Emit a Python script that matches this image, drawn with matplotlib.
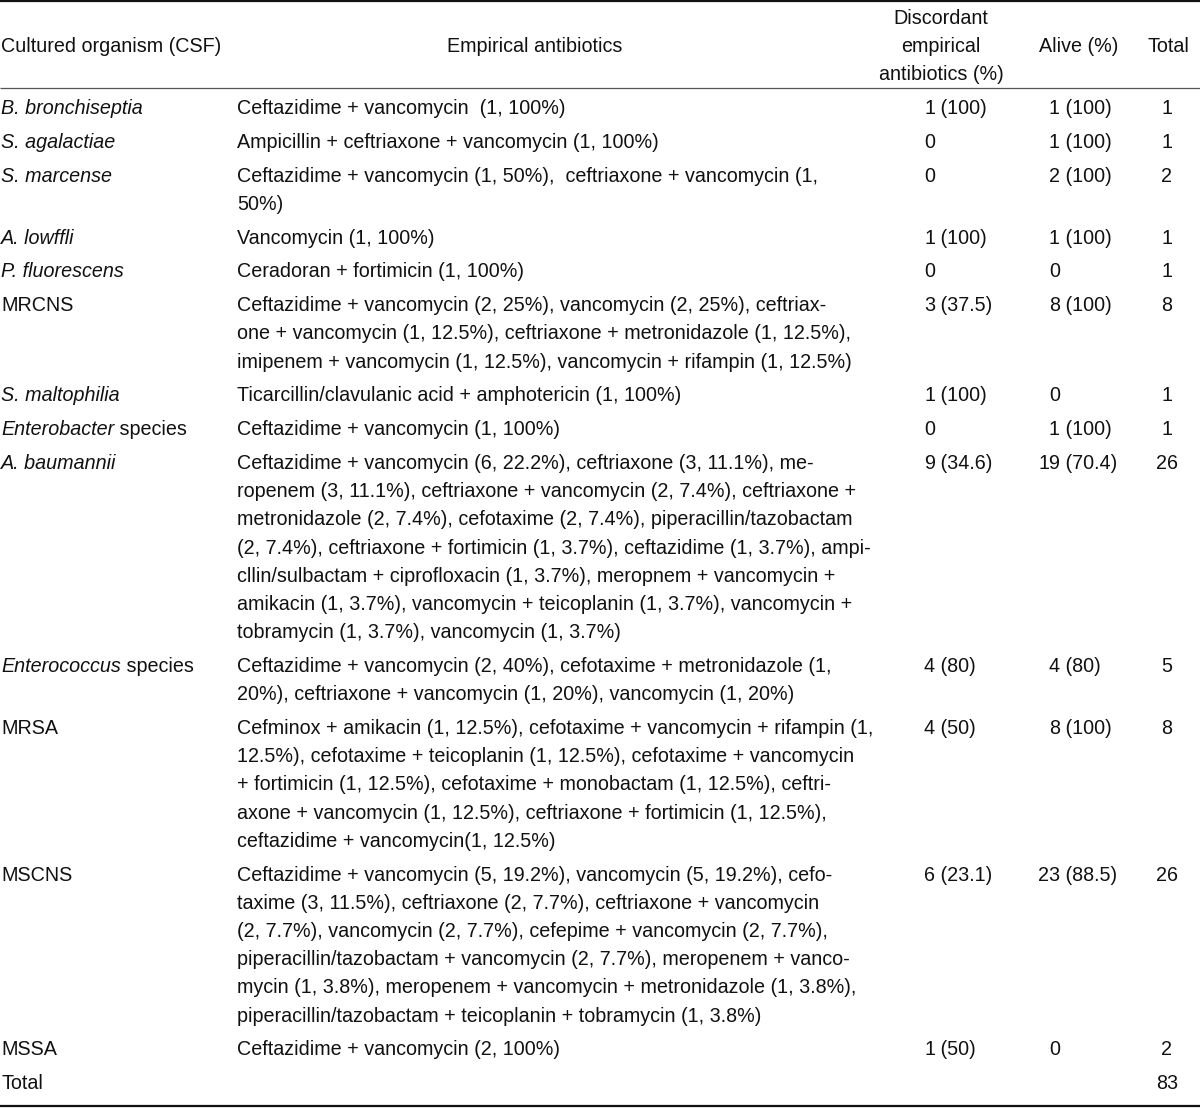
import matplotlib
matplotlib.use('Agg')
import matplotlib.pyplot as plt

plt.rcParams['font.family'] = ['Liberation Sans', 'DejaVu Sans']

# table data
organisms = ['B. bronchiseptia', 'S. agalactiae', 'S. marcense', 'A. lowffli', 'P. fluorescens',
             'MRCNS', 'S. maltophilia', 'Enterobacter species', 'A. baumannii',
             'Enterococcus species', 'MRSA', 'MSCNS', 'MSSA']
# part of each name that is set in italics
italic_part = ['B. bronchiseptia', 'S. agalactiae', 'S. marcense', 'A. lowffli', 'P. fluorescens',
               '', 'S. maltophilia', 'Enterobacter', 'A. baumannii',
               'Enterococcus', '', '', '']

antibiotics = [
    ['Ceftazidime + vancomycin  (1, 100%)'],
    ['Ampicillin + ceftriaxone + vancomycin (1, 100%)'],
    ['Ceftazidime + vancomycin (1, 50%),  ceftriaxone + vancomycin (1,',
     '50%)'],
    ['Vancomycin (1, 100%)'],
    ['Ceradoran + fortimicin (1, 100%)'],
    ['Ceftazidime + vancomycin (2, 25%), vancomycin (2, 25%), ceftriax-',
     'one + vancomycin (1, 12.5%), ceftriaxone + metronidazole (1, 12.5%),',
     'imipenem + vancomycin (1, 12.5%), vancomycin + rifampin (1, 12.5%)'],
    ['Ticarcillin/clavulanic acid + amphotericin (1, 100%)'],
    ['Ceftazidime + vancomycin (1, 100%)'],
    ['Ceftazidime + vancomycin (6, 22.2%), ceftriaxone (3, 11.1%), me-',
     'ropenem (3, 11.1%), ceftriaxone + vancomycin (2, 7.4%), ceftriaxone +',
     'metronidazole (2, 7.4%), cefotaxime (2, 7.4%), piperacillin/tazobactam',
     '(2, 7.4%), ceftriaxone + fortimicin (1, 3.7%), ceftazidime (1, 3.7%), ampi-',
     'cllin/sulbactam + ciprofloxacin (1, 3.7%), meropnem + vancomycin +',
     'amikacin (1, 3.7%), vancomycin + teicoplanin (1, 3.7%), vancomycin +',
     'tobramycin (1, 3.7%), vancomycin (1, 3.7%)'],
    ['Ceftazidime + vancomycin (2, 40%), cefotaxime + metronidazole (1,',
     '20%), ceftriaxone + vancomycin (1, 20%), vancomycin (1, 20%)'],
    ['Cefminox + amikacin (1, 12.5%), cefotaxime + vancomycin + rifampin (1,',
     '12.5%), cefotaxime + teicoplanin (1, 12.5%), cefotaxime + vancomycin',
     '+ fortimicin (1, 12.5%), cefotaxime + monobactam (1, 12.5%), ceftri-',
     'axone + vancomycin (1, 12.5%), ceftriaxone + fortimicin (1, 12.5%),',
     'ceftazidime + vancomycin(1, 12.5%)'],
    ['Ceftazidime + vancomycin (5, 19.2%), vancomycin (5, 19.2%), cefo-',
     'taxime (3, 11.5%), ceftriaxone (2, 7.7%), ceftriaxone + vancomycin',
     '(2, 7.7%), vancomycin (2, 7.7%), cefepime + vancomycin (2, 7.7%),',
     'piperacillin/tazobactam + vancomycin (2, 7.7%), meropenem + vanco-',
     'mycin (1, 3.8%), meropenem + vancomycin + metronidazole (1, 3.8%),',
     'piperacillin/tazobactam + teicoplanin + tobramycin (1, 3.8%)'],
    ['Ceftazidime + vancomycin (2, 100%)'],
]

discordant = ['1 (100)', '0', '0', '1 (100)', '0', '3 (37.5)', '1 (100)', '0',
              '9 (34.6)', '4 (80)', '4 (50)', '6 (23.1)', '1 (50)']
alive = ['1 (100)', '1 (100)', '2 (100)', '1 (100)', '0', '8 (100)', '0', '1 (100)',
         '19 (70.4)', '4 (80)', '8 (100)', '23 (88.5)', '0']
totals = [1, 1, 2, 1, 1, 8, 1, 1, 26, 5, 8, 26, 2]
grand_total = 83

# layout (pixels)
W, H = 1200, 1108
fs = 14.2
col = '#111111'
line_h = 28.2
row_pad = 5.6
cap_half = 7

fig = plt.figure(figsize=(W / 100, H / 100), dpi=100)
ax = fig.add_axes([0, 0, 1, 1])
ax.set_xlim(0, W)
ax.set_ylim(H, 0)
ax.axis('off')
renderer = fig.canvas.get_renderer()


def put(x, y, s, ha='left', style='normal'):
    return ax.text(x, y + cap_half, s, ha=ha, va='baseline', fontsize=fs,
                   color=col, style=style)


def put_split(x_right, y, s):
    # right-align the count, the percentage follows it
    num, _, rest = s.partition(' ')
    put(x_right, y, num, ha='right')
    if rest:
        put(x_right, y, ' ' + rest)


# rules
ax.plot([0, W], [1.2, 1.2], color='#111111', lw=1.6, solid_capstyle='butt')
ax.plot([0, W], [88, 88], color='#555555', lw=0.9, solid_capstyle='butt')
ax.plot([0, W], [1106, 1106], color='#111111', lw=1.6, solid_capstyle='butt')

# header
put(1, 45, 'Cultured organism (CSF)')
put(535, 45, 'Empirical antibiotics', ha='center')
for k, s in enumerate(['Discordant', 'empirical', 'antibiotics (%)']):
    put(941, 17 + 28 * k, s, ha='center')
put(1079, 45, 'Alive (%)', ha='center')
put(1168, 45, 'Total', ha='center')

# body
y = 107
for i, name in enumerate(organisms):
    it = italic_part[i]
    rest = name[len(it):]
    x = 1
    if it:
        t = put(x, y, it, style='italic')
        x += t.get_window_extent(renderer).width
    if rest:
        put(x, y, rest)
    for k, ln in enumerate(antibiotics[i]):
        put(237, y + k * line_h, ln)
    put_split(935, y, discordant[i])
    put_split(1060, y, alive[i])
    put(1167, y, str(totals[i]), ha='center')
    y += (len(antibiotics[i]) - 1) * line_h + line_h + row_pad

put(1, y, 'Total')
put(1167, y, str(grand_total), ha='center')

fig.savefig('out.png', dpi=100)
